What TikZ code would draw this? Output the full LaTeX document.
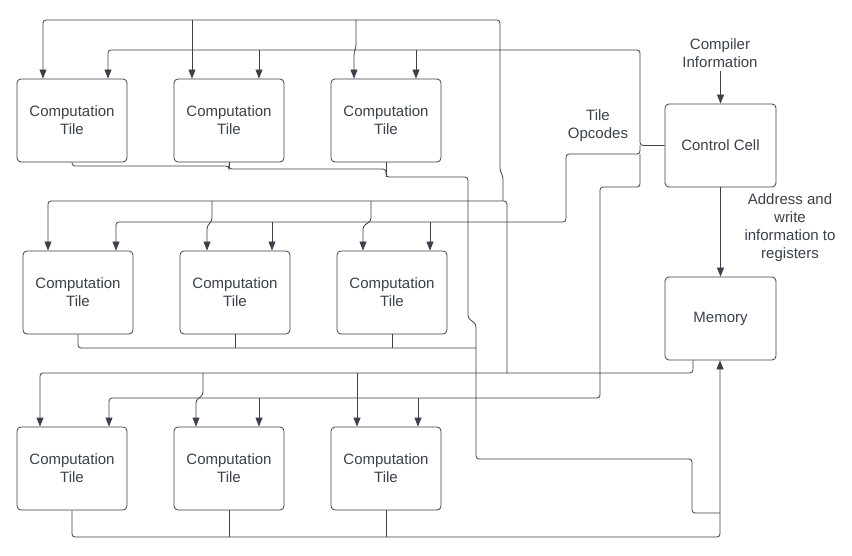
\documentclass[tikz,border=0pt]{standalone}
\usepackage{fontspec}
\setmainfont{Liberation Sans}
\usetikzlibrary{arrows.meta}
\tikzset{>={Triangle[length=9pt,width=7pt]}}
\definecolor{linegray}{HTML}{3A414A}
\newcommand{\tiletext}{Computation\\Tile}

\begin{document}
\begin{tikzpicture}[x=1pt,y=-1pt,
    every node/.style={text=linegray,font=\fontsize{15}{18}\selectfont,align=center},
    tile/.style={draw=linegray,line width=0.8pt,rounded corners=4pt,
                 minimum width=110pt,minimum height=83pt,inner sep=0pt},
    link/.style={draw=linegray,line width=0.8pt,rounded corners=3pt}]
  \useasboundingbox (0,0) rectangle (852,556);
  % tiles
  \node[tile] (tile11) at (72,120.5)  {\tiletext};
  \node[tile] (tile12) at (229,120.5) {\tiletext};
  \node[tile] (tile13) at (386,120.5) {\tiletext};
  \node[tile] (tile21) at (78,292.5)  {\tiletext};
  \node[tile] (tile22) at (235,292.5) {\tiletext};
  \node[tile] (tile23) at (392,292.5) {\tiletext};
  \node[tile] (tile31) at (72,468.5)  {\tiletext};
  \node[tile] (tile32) at (229,468.5) {\tiletext};
  \node[tile] (tile33) at (386,468.5) {\tiletext};
  % control cell and memory
  \node[tile,minimum width=111pt] (ctrl) at (720.5,145.5) {Control Cell};
  \node[tile,minimum width=111pt] (mem)  at (720.5,318.5) {Memory};
  \node (info)    at (720,53)    {Compiler\\Information};
  \node (opcodes) at (598,126)   {Tile\\Opcodes};
  \node (addr)    at (790,227.5) {Address and\\write\\information to\\registers};
  \draw[->,link] (info.south -| ctrl) -- (ctrl);
  \draw[->,link] (ctrl) -- (mem);
  % memory data to the tiles
  \coordinate (memtap) at (507,373);
  \draw[->,link] (mem.south -| 693,0) -- (693,373) -- (40,373) -- (tile31.north -| 40,0);
  \draw[->,link] (203,373) -- (203,395) -- (196,400) -- (tile32.north -| 196,0);
  \draw[->,link] (357,373) -- (tile33.north -| 357,0);
  \draw[->,link] (memtap) -- (507,201) -- (48,201) -- (tile21.north -| 48,0);
  \draw[->,link] (212,201) -- (212,221) -- (207,226) -- (tile22.north -| 207,0);
  \draw[->,link] (371,201) -- (371,221) -- (363,226) -- (tile23.north -| 363,0);
  \draw[->,link] (503,201) -- (503,176) -- (500,171) -- (500,20) -- (43,20) -- (tile11.north -| 43,0);
  \draw[->,link] (192,20) -- (tile12.north -| 192,0);
  \draw[->,link] (356,20) -- (356,48) -- (354,52) -- (tile13.north -| 354,0);
  % opcodes from the control cell
  \coordinate (ctrltap) at (640,154);
  \draw[->,link] (ctrl.west) -| (640,50) -- (108,50) -- (tile11.north -| 108,0);
  \draw[->,link] (259,50) -- (tile12.north -| 259,0);
  \draw[->,link] (416,50) -- (tile13.north -| 416,0);
  \draw[->,link] (640,145.5) -- (ctrltap) -- (566,154) -- (566,222) -- (116,222) -- (tile21.north -| 116,0);
  \draw[->,link] (272,222) -- (tile22.north -| 272,0);
  \draw[->,link] (430,222) -- (tile23.north -| 430,0);
  \draw[->,link] (ctrltap) -- (640,187) -- (600,187) -- (600,398) -- (109,398) -- (tile31.north -| 109,0);
  \draw[->,link] (259,398) -- (tile32.north -| 259,0);
  \draw[->,link] (418,398) -- (tile33.north -| 418,0);
  % results back to memory
  \draw[link] (tile11.south) -- (72,166) -- (229,166) -- (229,169) -- (386,169) -- (386,177)
    -- (468,177) -- (468,318) -- (476,324) -- (476,459) -- (692,459) -- (692,513) -- (720,513);
  \draw[link] (tile12.south) -- (229,166);
  \draw[link] (tile13.south) -- (386,177);
  \draw[link] (tile21.south) -- (78,348) -- (476,348);
  \draw[link] (tile22.south) -- (235,348);
  \draw[link] (tile23.south) -- (392,348);
  \draw[->,link] (tile31.south) -- (72,537) -- (720,537) -- (mem.south -| 720,0);
  \draw[link] (tile32.south) -- (229,537);
  \draw[link] (tile33.south) -- (386,537);
\end{tikzpicture}
\end{document}
